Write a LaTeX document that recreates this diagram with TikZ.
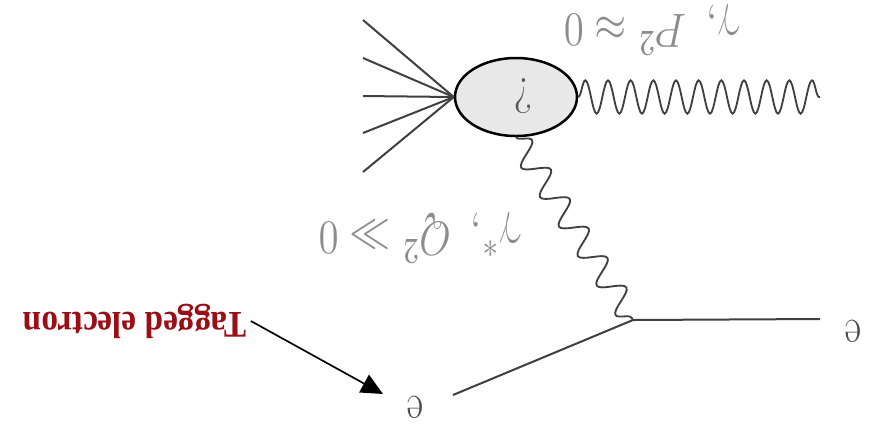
\documentclass[tikz,border=0pt]{standalone}
\usepackage{fontspec}
\usepackage{tikz}
\usetikzlibrary{arrows.meta, positioning, shapes.geometric, decorations.pathmorphing}
\newfontfamily\tagfont{Liberation Serif}
\definecolor{tagred}{HTML}{9A0E16}
\definecolor{lblgray}{gray}{0.55}
\definecolor{linegray}{gray}{0.25}

\begin{document}
\begin{tikzpicture}[
  x=0.3pt, y=-0.3pt,
  blob/.style={draw, ellipse, line width=0.75pt, fill=gray!18, minimum width=36.6pt, minimum height=23.4pt, inner sep=0pt},
  lbl/.style={text=lblgray, rotate=180, inner sep=0pt, font=\fontsize{15}{18}\selectfont},
  fermion/.style={draw=linegray, line width=0.6pt},
  photon/.style={draw=linegray, line width=0.55pt, decorate},
  arr/.style={-{Triangle[length=6.5pt, width=6pt]}, line width=0.5pt}
]
  \useasboundingbox[fill=white] (0,0) rectangle (869,433);

  \node[blob] (blob) at (516,97) {};
  \node[lbl, text=gray!70!black] (qm) at (523,96) {\scalebox{0.85}[1]{?}};
  \foreach \y [count=\i] in {20,58,96,133,172}
    \coordinate (f\i) at (363,\y);
  \foreach \i in {1,...,5}
    \draw[fermion] (blob.west) -- (f\i);

  \coordinate (v) at (633,320);
  \coordinate (pend) at (820,97);
  \coordinate (ein0) at (453,395);
  \coordinate (eout0) at (820,319);
  \coordinate (tip) at (383,394);

  \draw[photon, decoration={snake, amplitude=5pt, segment length=6.8pt}] (blob.east) -- (pend);
  \draw[photon, decoration={snake, amplitude=3.6pt, segment length=10.5pt}] (blob.south) -- (v);
  \draw[fermion] (ein0) -- (v);
  \draw[fermion] (v) -- (eout0);

  \node[lbl] (plab) at (652,30) {\scalebox{0.85}[1]{$\gamma,\ P^2 \approx 0$}};
  \node[lbl] (qlab) at (420,238) {\scalebox{0.85}[1]{$\gamma^*,\ Q^2 \gg 0$}};
  \node[lbl, text=gray!60!black] (ein) at (415,407) {\scalebox{0.8}[1]{e}};
  \node[lbl, text=gray!60!black] (eout) at (853,331) {\scalebox{0.8}[1]{e}};

  \node[rotate=180, inner sep=1pt, text=tagred, font=\tagfont\bfseries\fontsize{11.3}{13}\selectfont] (tag) at (135,321) {\scalebox{0.88}[1]{Tagged electron}};
  \draw[arr] (tag.west) -- (tip);
\end{tikzpicture}
\end{document}
